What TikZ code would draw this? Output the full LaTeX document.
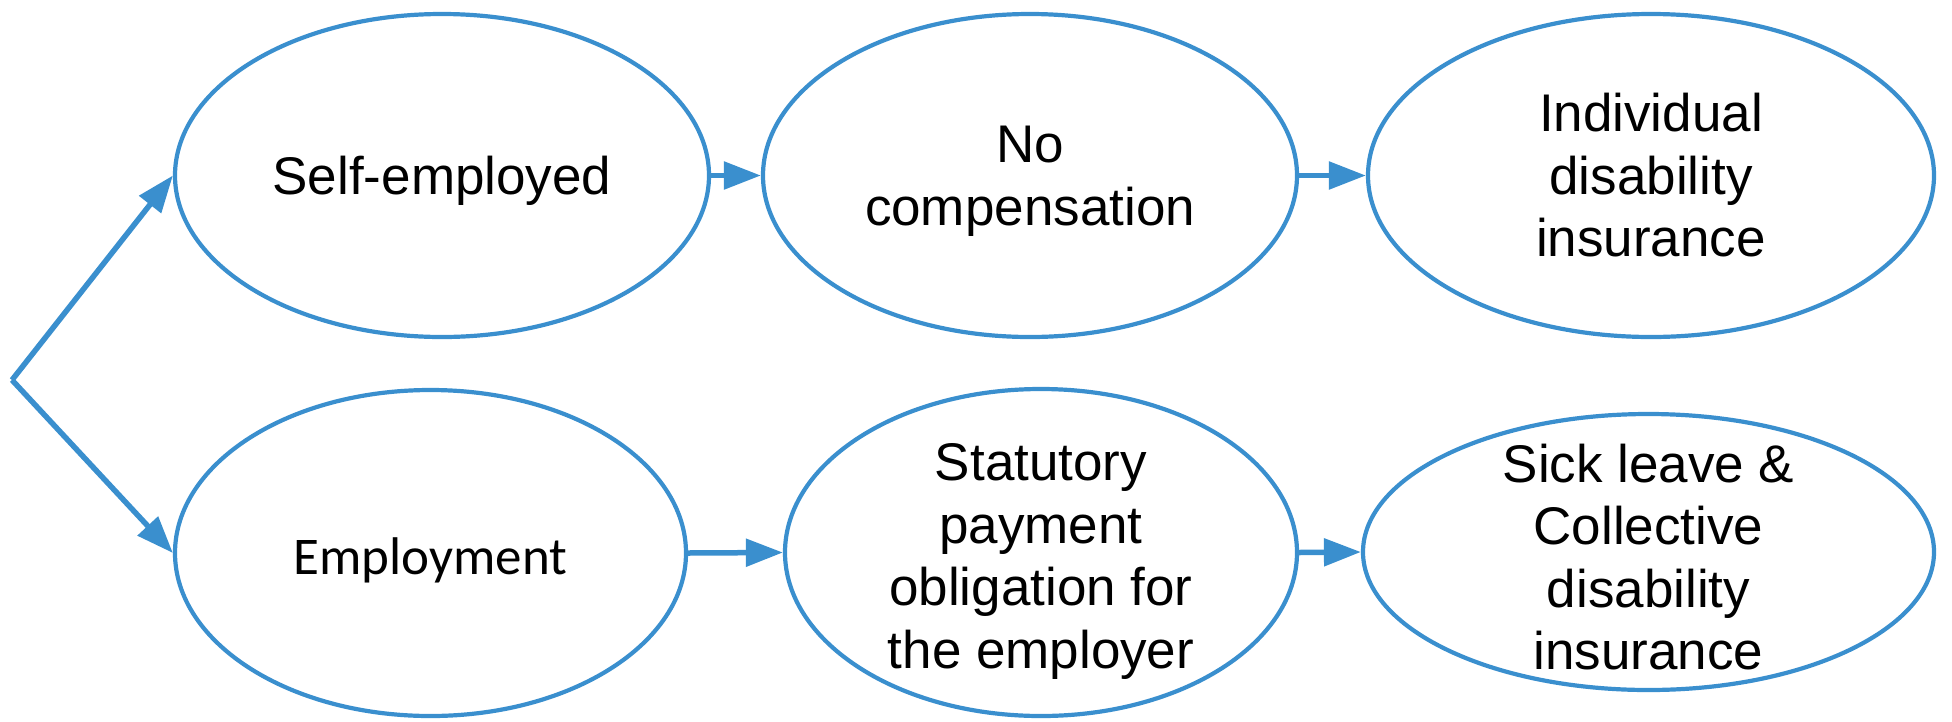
\documentclass[tikz,border=0pt]{standalone}
\usepackage{fontspec}
\setmainfont{Liberation Sans}
\newfontfamily\carlitofont{Carlito}
\usetikzlibrary{shapes.geometric,arrows.meta}
\definecolor{flowblue}{RGB}{58,143,206}
\begin{document}
\begin{tikzpicture}[x=1pt,y=-1pt,
  oval/.style={ellipse, draw=flowblue, line width=4.2pt, inner sep=0pt},
  lbl/.style={align=center, inner sep=0pt, font=\fontsize{53}{62.5}\selectfont},
  link/.style={draw=flowblue, line width=5.5pt, -{Triangle[length=37pt,width=27pt]}}]
\useasboundingbox (0,0) rectangle (1952,721);

% upper row
\node[oval, minimum width=534pt, minimum height=323pt] (self)   at (442,175.5) {};
\node[oval, minimum width=534pt, minimum height=323pt] (nocomp) at (1030,175.5) {};
\node[oval, minimum width=566pt, minimum height=323pt] (indiv)  at (1651,175.5) {};
% lower row
\node[oval, minimum width=511pt, minimum height=326pt] (employ) at (430.5,553) {};
\node[oval, minimum width=512pt, minimum height=327pt] (statut) at (1041,552.5) {};
\node[oval, minimum width=571pt, minimum height=276pt] (sick)   at (1648.5,552) {};

% labels
\node[lbl, yshift=-5pt] (selft)   at (self)   {Self-employed};
\node[lbl, yshift=-6pt] (nocompt) at (nocomp) {No\\compensation};
\node[lbl]              (indivt)  at (indiv)  {Individual\\disability\\insurance};
\node[lbl, yshift=-7pt, font=\fontsize{53}{62.5}\carlitofont] (employt) at (employ) {Employment};
\node[lbl, yshift=-9pt] (statutt) at (statut) {Statutory\\payment\\obligation for\\the employer};
\node[lbl, yshift=-5pt] (sickt)   at (sick)   {Sick leave \&\\Collective\\disability\\insurance};

% connectors
\coordinate (fork) at (12,380);
\draw[link] (fork) -- (self.west);
\draw[link] (fork) -- (employ.west);
\draw[link] (self.east) -- (nocomp.west);
\draw[link] (nocomp.east) -- (indiv.west);
\draw[link] (employ.east) -- (statut.west);
\draw[link] (statut.east) -- (sick.west);
\end{tikzpicture}
\end{document}
